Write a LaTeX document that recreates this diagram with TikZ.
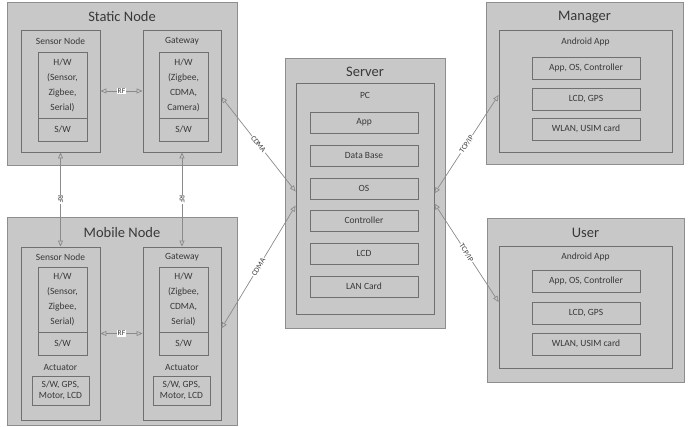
\documentclass[tikz,border=0pt]{standalone}
\usepackage{fontspec}
\setmainfont{Carlito}
\usetikzlibrary{arrows.meta,calc}
\definecolor{fillg}{HTML}{C8C8C8}
\definecolor{edgeo}{HTML}{8E8E8E}
\definecolor{edgei}{HTML}{707070}
\definecolor{txt}{HTML}{383838}
\definecolor{linkc}{HTML}{8A8A8A}
\newcommand\bx[7]{\node[#6, minimum width={#4-#2}, minimum height={#5-#3}] (#1) at ({(#2+#4)/2},{(#3+#5)/2}) {#7};}
\tikzset{
  outerbox/.style={rectangle, draw=edgeo, fill=fillg, line width=1pt, inner sep=0pt},
  innerbox/.style={rectangle, draw=edgei, fill=fillg, line width=0.8pt, inner sep=0pt},
  itembox/.style={rectangle, draw=edgei, fill=fillg, line width=0.8pt, inner sep=0pt, text=txt, align=center, font=\fontsize{9.5}{15}\selectfont},
  titletxt/.style={text=txt, font=\fontsize{14.5}{16}\selectfont, inner sep=0pt},
  labtxt/.style={text=txt, font=\fontsize{9.5}{11}\selectfont, inner sep=0pt},
  link/.style={draw=linkc, line width=0.7pt, {Triangle[open,length=6pt,width=5pt]}-{Triangle[open,length=6pt,width=5pt]}},
  linklab/.style={text=txt, font=\fontsize{7.5}{8}\selectfont, fill=white, inner sep=1pt, sloped}
}
\begin{document}
\begin{tikzpicture}[x=1pt,y=-1pt]
\useasboundingbox (0,0) rectangle (690,427);
% Static Node
\bx{sn}{7}{3}{237}{166}{outerbox}{}
\node[titletxt] (snt) at (122,17) {Static Node};
\bx{ssn}{21}{30}{100}{152}{innerbox}{}
\node[labtxt] (ssnt) at (60.5,41) {Sensor Node};
\bx{ssnh}{38}{52}{87}{118}{itembox}{H/W\\(Sensor,\\Zigbee,\\Serial)}
\bx{ssns}{38}{118}{87}{141}{itembox}{S/W}
\bx{sgw}{143}{30}{221}{152}{innerbox}{}
\node[labtxt] (sgwt) at (182,41) {Gateway};
\bx{sgwh}{159}{52}{208}{118}{itembox}{H/W\\(Zigbee,\\CDMA,\\Camera)}
\bx{sgws}{159}{118}{208}{141}{itembox}{S/W}
% Mobile Node
\bx{mn}{7}{218}{237}{425}{outerbox}{}
\node[titletxt] (mnt) at (122,233) {Mobile Node};
\bx{msn}{21}{247}{100}{420}{innerbox}{}
\node[labtxt] (msnt) at (60.5,257) {Sensor Node};
\bx{msnh}{38}{267}{87}{332}{itembox}{H/W\\(Sensor,\\Zigbee,\\Serial)}
\bx{msns}{38}{332}{87}{355}{itembox}{S/W}
\node[labtxt] (msna) at (60.5,367) {Actuator};
\bx{msnb}{32}{376}{89}{405}{itembox}{S/W, GPS,\\[-3.5pt]Motor, LCD}
\bx{mgw}{143}{247}{221}{420}{innerbox}{}
\node[labtxt] (mgwt) at (182,257) {Gateway};
\bx{mgwh}{159}{267}{208}{332}{itembox}{H/W\\(Zigbee,\\CDMA,\\Serial)}
\bx{mgws}{159}{332}{208}{355}{itembox}{S/W}
\node[labtxt] (mgwa) at (182,367) {Actuator};
\bx{mgwb}{153}{376}{210}{405}{itembox}{S/W, GPS,\\[-3.5pt]Motor, LCD}
% Server
\bx{srv}{285}{59}{445}{328}{outerbox}{}
\node[titletxt] (srvt) at (365,72) {Server};
\bx{pc}{296}{83}{434}{314}{innerbox}{}
\node[labtxt] (pct) at (365,95) {PC};
\bx{s1}{310}{112}{418}{133}{itembox}{App}
\bx{s2}{310}{145}{418}{166}{itembox}{Data Base}
\bx{s3}{310}{178}{418}{199}{itembox}{OS}
\bx{s4}{310}{210}{418}{231}{itembox}{Controller}
\bx{s5}{310}{243}{418}{264}{itembox}{LCD}
\bx{s6}{310}{276}{418}{297}{itembox}{LAN Card}
% Manager
\bx{mg}{486}{3}{683}{165}{outerbox}{}
\node[titletxt] (mgt) at (584.5,17) {Manager};
\bx{mgi}{499}{30}{672}{152}{innerbox}{}
\node[labtxt] (mgit) at (585.5,42) {Android App};
\bx{m1}{532}{57}{640}{79}{itembox}{App, OS, Controller}
\bx{m2}{532}{88}{640}{110}{itembox}{LCD, GPS}
\bx{m3}{532}{118}{640}{140}{itembox}{WLAN, USIM card}
% User
\bx{us}{487}{219}{684}{382}{outerbox}{}
\node[titletxt] (ust) at (585.5,233) {User};
\bx{usi}{499}{246}{672}{368}{innerbox}{}
\node[labtxt] (usit) at (585.5,257) {Android App};
\bx{u1}{532}{270}{640}{292}{itembox}{App, OS, Controller}
\bx{u2}{532}{302}{640}{324}{itembox}{LCD, GPS}
\bx{u3}{532}{333}{640}{355}{itembox}{WLAN, USIM card}
% Links
\draw[link] (ssn.east) -- node[linklab] {RF} (sgw.west);
\draw[link] (msn.east) -- node[linklab] {RF} (mgw.west);
\draw[link] (ssn.south) -- node[linklab] {RF} (msn.north);
\draw[link] (sgw.south) -- node[linklab] {RF} (mgw.north);
\draw[link] ([yshift=-6pt]sgw.east) -- node[linklab] {CDMA} ([yshift=7pt]pc.west);
\draw[link] ([yshift=5pt]mgw.east) -- node[linklab] {CDMA} ([yshift=-7pt]pc.west);
\draw[link] ([yshift=5pt]pc.east) -- node[linklab] {TCP/IP} ([yshift=-4pt]mgi.west);
\draw[link] ([yshift=-5pt]pc.east) -- node[linklab] {TCP/IP} ([yshift=5pt]usi.west);
\end{tikzpicture}
\end{document}
